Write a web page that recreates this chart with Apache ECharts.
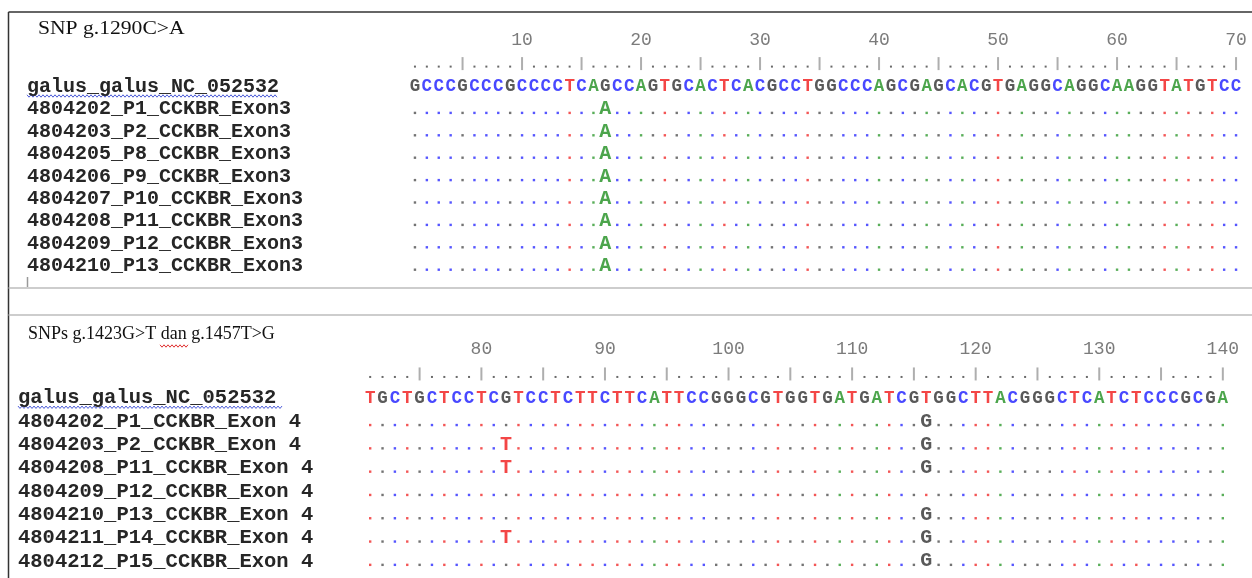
<!DOCTYPE html>
<html><head><meta charset="utf-8">
<script src="https://cdn.jsdelivr.net/npm/echarts@6/dist/echarts.min.js"></script>
<style>html,body{margin:0;padding:0;background:#fff}#c{width:1252px;height:578px}</style>
</head><body><div id="c"></div>
<script>
// ---------------- data ----------------
const refName = 'galus_galus_NC_052532';
const title1 = 'SNP g.1290C>A';
const title2 = 'SNPs g.1423G>T dan g.1457T>G';
const names1 = ['4804202_P1_CCKBR_Exon3','4804203_P2_CCKBR_Exon3','4804205_P8_CCKBR_Exon3','4804206_P9_CCKBR_Exon3',
  '4804207_P10_CCKBR_Exon3','4804208_P11_CCKBR_Exon3','4804209_P12_CCKBR_Exon3','4804210_P13_CCKBR_Exon3'];
const names2 = ['4804202_P1_CCKBR_Exon 4','4804203_P2_CCKBR_Exon 4','4804208_P11_CCKBR_Exon 4','4804209_P12_CCKBR_Exon 4',
  '4804210_P13_CCKBR_Exon 4','4804211_P14_CCKBR_Exon 4','4804212_P15_CCKBR_Exon 4'];
const ref1 = 'GCCCGCCCGCCCCTCAGCCAGTGCACTCACGCCTGGCCCAGCGAGCACGTGAGGCAGGCAAGGTATGTCC';
const ref2 = 'TGCTGCTCCTCGTCCTCTTCTTCATTCCGGGCGTGGTGATGATCGTGGCTTACGGGCTCATCTCCCGCGA';
const start1 = 1;
const start2 = 71;
const rulerLabels1 = [10, 20, 30, 40, 50, 60, 70];
const rulerLabels2 = [80, 90, 100, 110, 120, 130, 140];
// variants per sample row: [position, base]
const snps1 = [
  [[17, 'A']], [[17, 'A']], [[17, 'A']], [[17, 'A']],
  [[17, 'A']], [[17, 'A']], [[17, 'A']], [[17, 'A']]
];
const snps2 = [
  [[116, 'G']],
  [[82, 'T'], [116, 'G']],
  [[82, 'T'], [116, 'G']],
  [],
  [[116, 'G']],
  [[82, 'T'], [116, 'G']],
  [[116, 'G']]
];

// ---------------- style ----------------
const MONO = '"Liberation Mono", "DejaVu Sans Mono", monospace';
const letterColor = {A: '#1f8f1f', C: '#1a1aff', G: '#303030', T: '#f01818'};
const dotColor = {A: '#2f9a2f', C: '#2a2aff', G: '#505050', T: '#f02a2a'};
const layout = [
  {left: 409, width: 833, top: 31, band: 22.4, nameX: 27, nameSize: 20},
  {left: 364, width: 865, top: 340, band: 23.3, nameX: 18, nameSize: 20.5}
];

function blockSeries(gi, ref, start, names, snps, labels) {
  const series = [];
  const base = {type: 'scatter', xAxisIndex: gi, yAxisIndex: gi, silent: true, animation: false};
  // ruler numbers
  series.push(Object.assign({}, base, {
    symbolSize: 1, itemStyle: {color: 'rgba(0,0,0,0)'},
    data: labels.map(v => ({value: [v, 0], name: String(v)})),
    label: {show: true, position: 'inside', formatter: '{b}', fontFamily: MONO, fontSize: 18, color: '#5a5a5a', offset: [0, -2]}
  }));
  // ruler dots and ticks
  const dots = [], ticks = [];
  for (let i = 0; i < ref.length; i++) {
    const p = start + i;
    (p % 5 === 0 ? ticks : dots).push([p, 1]);
  }
  series.push(Object.assign({}, base, {symbol: 'rect', symbolSize: [2, 2], symbolOffset: [0, 2], itemStyle: {color: '#444'}, data: dots}));
  series.push(Object.assign({}, base, {symbol: 'rect', symbolSize: [2, 13], symbolOffset: [0, -1], itemStyle: {color: '#9a9a9a'}, data: ticks}));
  // reference letters
  series.push(Object.assign({}, base, {
    symbolSize: 1, itemStyle: {color: 'rgba(0,0,0,0)'},
    data: ref.split('').map((c, i) => ({value: [start + i, 2], name: c, label: {color: letterColor[c]}})),
    label: {show: true, position: 'inside', formatter: '{b}', fontFamily: MONO, fontWeight: 'bold', fontSize: 17.5}
  }));
  // sample rows: match dots + variant letters
  const matchDots = [], varLetters = [];
  names.forEach((n, r) => {
    const row = r + 3;
    const vmap = {};
    snps[r].forEach(([p, b]) => { vmap[p] = b; });
    for (let i = 0; i < ref.length; i++) {
      const p = start + i;
      if (vmap[p]) {
        varLetters.push({value: [p, row], name: vmap[p], label: {color: letterColor[vmap[p]]}});
      } else {
        matchDots.push({value: [p, row], itemStyle: {color: dotColor[ref[i]]}});
      }
    }
  });
  series.push(Object.assign({}, base, {symbol: 'rect', symbolSize: [2.4, 2.4], symbolOffset: [0, 3.5], data: matchDots}));
  series.push(Object.assign({}, base, {
    symbolSize: 1, itemStyle: {color: 'rgba(0,0,0,0)'},
    data: varLetters,
    label: {show: true, position: 'inside', formatter: '{b}', fontFamily: MONO, fontWeight: 'bold', fontSize: 20}
  }));
  return series;
}

function zigzag(x0, x1, y, amp) {
  const pts = [];
  let k = 0;
  for (let x = x0; x <= x1; x += 2, k++) pts.push([x, y + (k % 2 ? amp : -amp)]);
  return pts;
}

const blocks = [
  {ref: ref1, start: start1, names: names1, snps: snps1, labels: rulerLabels1},
  {ref: ref2, start: start2, names: names2, snps: snps2, labels: rulerLabels2}
];
const grids = layout.map((l, i) => ({
  left: l.left, width: l.width, top: l.top, height: l.band * (blocks[i].names.length + 3)
}));

const xAxes = blocks.map((b, i) => ({
  type: 'value', gridIndex: i, min: b.start - 0.5, max: b.start + b.ref.length - 0.5, show: false
}));
const yAxes = blocks.map((b, i) => ({
  type: 'category', gridIndex: i, inverse: true,
  data: ['', '', refName].concat(b.names),
  axisLine: {show: false}, axisTick: {show: false}, splitLine: {show: false},
  axisLabel: {
    interval: 0, align: 'left', margin: layout[i].left - layout[i].nameX,
    fontFamily: MONO, fontWeight: 'bold', fontSize: layout[i].nameSize, color: '#262626'
  }
}));
let series = [];
blocks.forEach((b, i) => { series = series.concat(blockSeries(i, b.ref, b.start, b.names, b.snps, b.labels)); });

// decorations (frame, titles, spell-check underlines)
const refY = layout.map(l => l.top + 2.5 * l.band);
const graphic = [
  {type: 'line', shape: {x1: 8.5, y1: 12, x2: 1252, y2: 12}, style: {stroke: '#333', lineWidth: 1.5}, silent: true},
  {type: 'line', shape: {x1: 8.5, y1: 12, x2: 8.5, y2: 578}, style: {stroke: '#333', lineWidth: 1.5}, silent: true},
  {type: 'line', shape: {x1: 8.5, y1: 288, x2: 1252, y2: 288}, style: {stroke: '#bdbdbd', lineWidth: 1.5}, silent: true},
  {type: 'line', shape: {x1: 8.5, y1: 315, x2: 1252, y2: 315}, style: {stroke: '#bdbdbd', lineWidth: 1.5}, silent: true},
  {type: 'line', shape: {x1: 27.5, y1: 277, x2: 27.5, y2: 287}, style: {stroke: '#999', lineWidth: 1.5}, silent: true},
  {type: 'text', x: 38, y: 29, scaleX: 1.2, originX: 0, originY: 0, silent: true,
    style: {text: title1, fill: '#111', font: '18px "Liberation Serif", serif', textVerticalAlign: 'middle'}},
  {type: 'text', x: 28, y: 334, silent: true,
    style: {text: title2, fill: '#111', font: '18px "Liberation Serif", serif', textVerticalAlign: 'middle'}},
  {type: 'polyline', shape: {points: zigzag(27, 278, refY[0] + 9, 1.2)}, style: {stroke: '#4a5ad8', lineWidth: 1, fill: null}, silent: true},
  {type: 'polyline', shape: {points: zigzag(18, 282, refY[1] + 9, 1.2)}, style: {stroke: '#4a5ad8', lineWidth: 1, fill: null}, silent: true},
  {type: 'polyline', shape: {points: zigzag(160, 188, 346, 1.2)}, style: {stroke: '#e03030', lineWidth: 1, fill: null}, silent: true}
];

const chart = echarts.init(document.getElementById('c'), null, {renderer: 'canvas'});
chart.setOption({
  animation: false,
  backgroundColor: '#ffffff',
  grid: grids,
  xAxis: xAxes,
  yAxis: yAxes,
  series: series,
  graphic: graphic
});
</script>
</body></html>
